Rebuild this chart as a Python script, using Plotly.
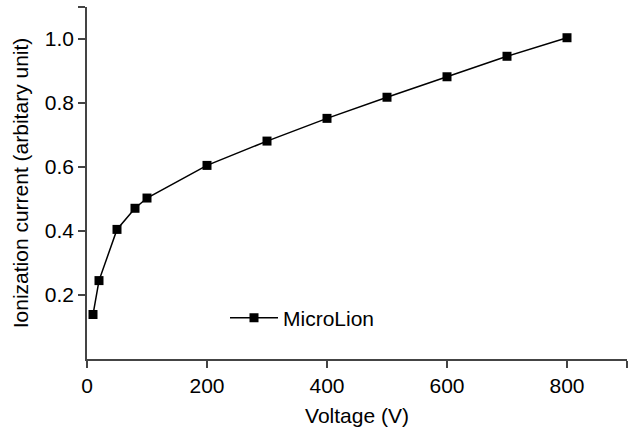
import plotly.graph_objects as go

voltage = [10, 20, 50, 80, 100, 200, 300, 400, 500, 600, 700, 800]
current = [0.139, 0.245, 0.405, 0.471, 0.503, 0.605, 0.681, 0.752, 0.818, 0.882, 0.946, 1.004]
series_name = "MicroLion"
x_ticks = [0, 200, 400, 600, 800, 900]
x_ticklabels = ["0", "200", "400", "600", "800", ""]
y_ticks = [0.2, 0.4, 0.6, 0.8, 1.0, 1.1]
y_ticklabels = ["0.2", "0.4", "0.6", "0.8", "1.0", ""]

font = "Liberation Sans, Arial, sans-serif"
fs = 21

fig = go.Figure()
fig.add_trace(go.Scatter(
    x=voltage, y=current, name=series_name, mode="lines+markers",
    line=dict(color="black", width=1.5),
    marker=dict(symbol="square", size=9, color="black"),
))

axis_common = dict(
    showgrid=False, zeroline=False, showline=True, linecolor="#444", linewidth=1.5,
    ticks="outside", ticklen=7, tickwidth=1.5, tickcolor="#444",
    tickfont=dict(family=font, size=fs, color="black"),
)

fig.update_layout(
    width=633, height=430,
    margin=dict(l=87, r=6, t=7, b=71),
    paper_bgcolor="white", plot_bgcolor="white",
    font=dict(family=font, size=fs, color="black"),
    showlegend=True,
    legend=dict(x=(225 - 87) / 540, y=0.1165, xanchor="left", yanchor="middle",
                itemwidth=48, bgcolor="rgba(0,0,0,0)",
                font=dict(family=font, size=fs, color="black")),
    xaxis=dict(range=[0, 900], tickvals=x_ticks, ticktext=x_ticklabels,
               title=dict(text="Voltage (V)", font=dict(family=font, size=fs, color="black"), standoff=12),
               **axis_common),
    yaxis=dict(range=[0, 1.1], tickvals=y_ticks, ticktext=y_ticklabels,
               title=dict(text="Ionization current (arbitary unit)", font=dict(family=font, size=fs, color="black"), standoff=10),
               **axis_common),
)

fig.write_html("out.html")
